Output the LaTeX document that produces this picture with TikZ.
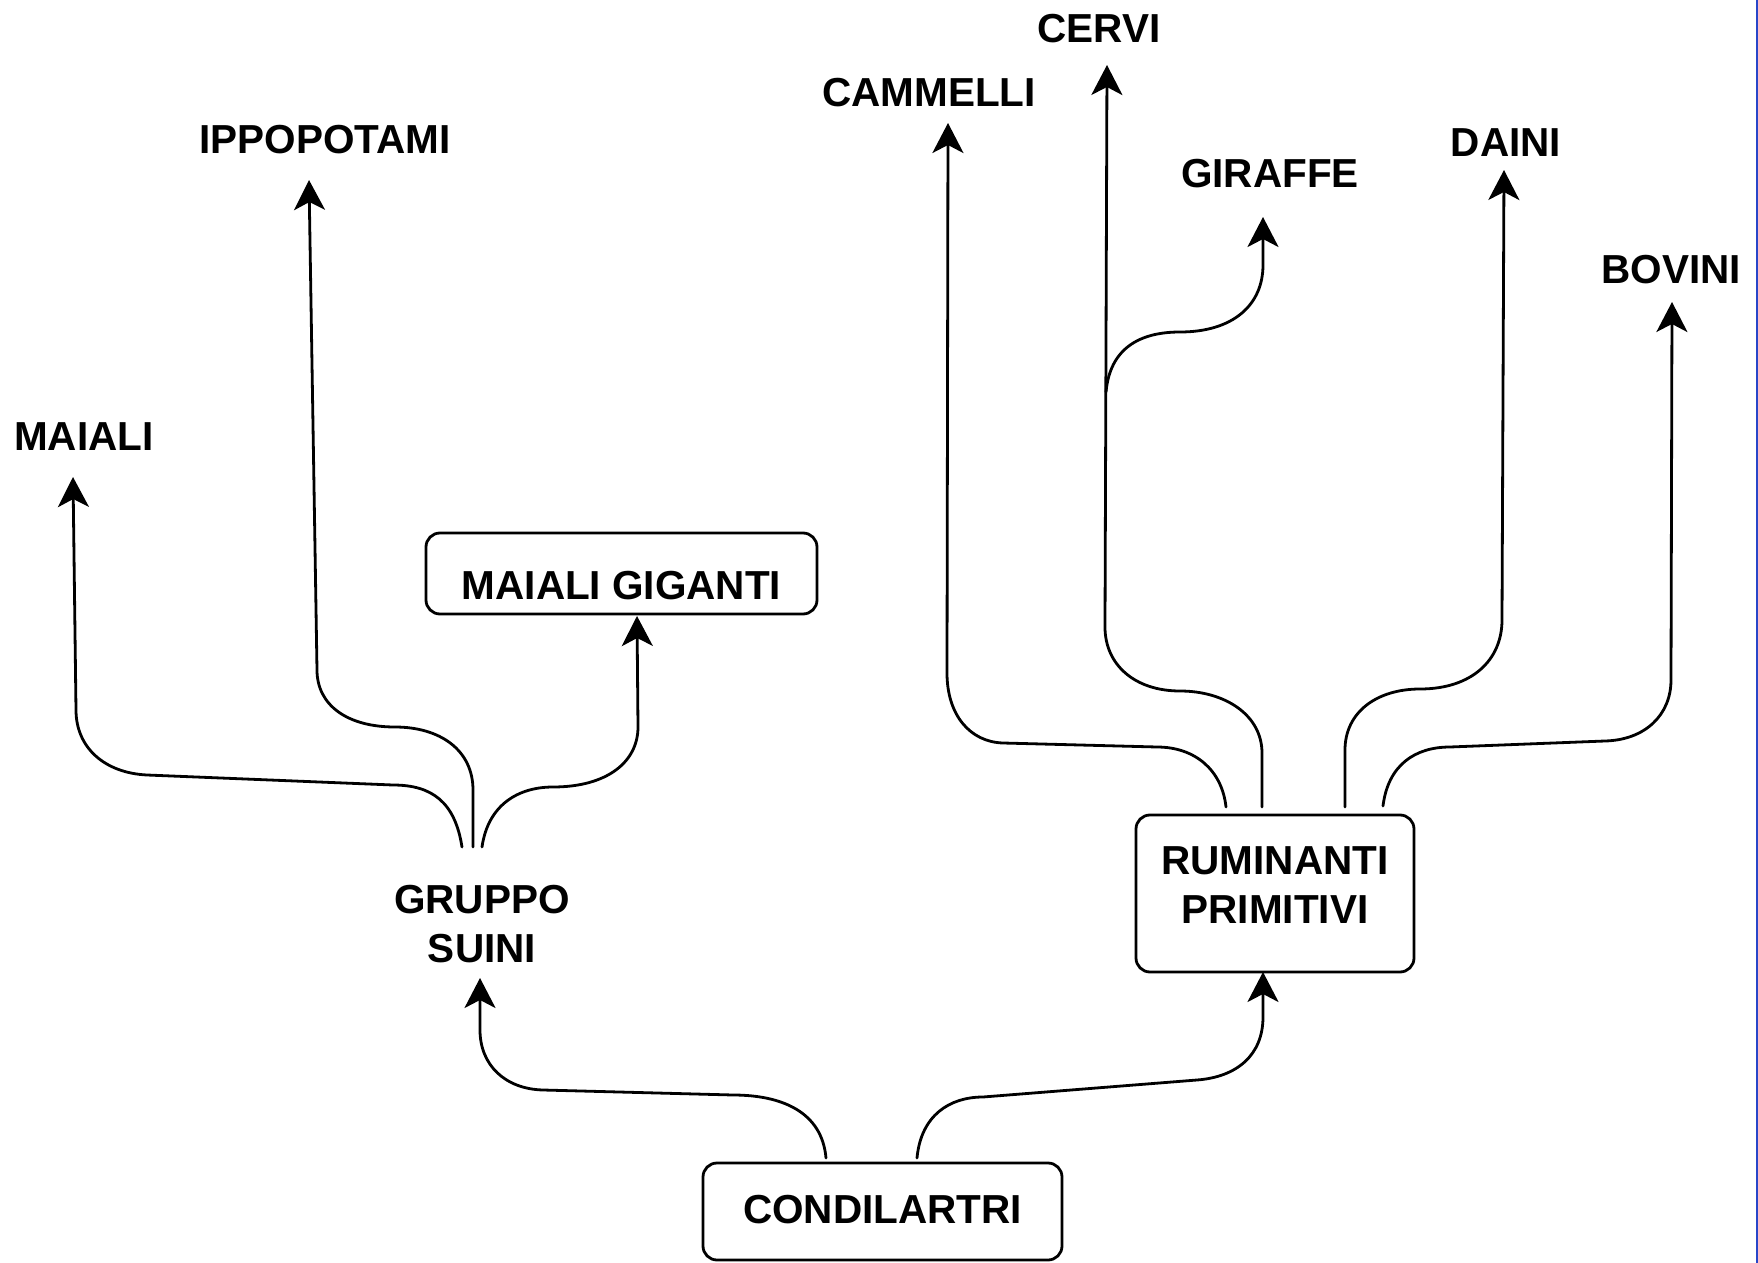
\documentclass[tikz,border=0pt]{standalone}
\usepackage{fontspec}
\setmainfont{Liberation Sans}
\usetikzlibrary{arrows.meta,calc}
\definecolor{edgeblue}{RGB}{40,70,200}
\tikzset{
  lbl/.style={font=\bfseries\fontsize{20.25}{24.25}\selectfont, inner sep=0pt, anchor=base, align=center},
  rbox/.style={draw, line width=1.4pt, rounded corners=7pt, inner sep=0pt, anchor=base,
               font=\bfseries\fontsize{20.25}{24.25}\selectfont, align=center},
  link/.style={line width=1.4pt, line cap=round},
  arr/.style={link, -{Stealth[length=15pt,width=15.5pt,inset=4pt]}},
}
\begin{document}
\begin{tikzpicture}[x=0.5pt,y=-0.5pt]
\useasboundingbox (0,0) rectangle (1758,1263);

% ---------- boxes ----------
\node[rbox, minimum width=179.5pt, text height=30pt, text depth=18.5pt] (condi) at (882.5,1223) {CONDILARTRI};
\node[rbox, minimum width=195.5pt, text height=33pt, text depth=7.5pt] (giganti) at (621.5,599) {MAIALI GIGANTI};
\node[rbox, minimum width=139pt, text height=54pt, text depth=24.5pt] (rumi) at (1275,923) {RUMINANTI\\PRIMITIVI};

% ---------- labels ----------
\node[lbl] (suini) at (482,962) {GRUPPO\\SUINI};
\node[lbl] (maiali) at (84,450) {MAIALI};
\node[lbl] (ippo) at (325,154) {IPPOPOTAMI};
\node[lbl] (cammelli) at (929,107) {CAMMELLI};
\node[lbl] (cervi) at (1099,43) {CERVI};
\node[lbl] (giraffe) at (1270,188) {GIRAFFE};
\node[lbl] (daini) at (1506,156) {DAINI};
\node[lbl] (bovini) at (1671,283) {BOVINI};

% ---------- connector ends ----------
\coordinate (cL) at (826,1158);
\coordinate (cR) at (917,1158);
\coordinate (tSuini) at (480,978);
\coordinate (tRumi) at (1263,972);
\coordinate (sM) at (462,847);
\coordinate (sI) at (473,847);
\coordinate (sG) at (482,847);
\coordinate (tMaiali) at (73,477);
\coordinate (tIppo) at (309,180);
\coordinate (tGiganti) at (637,616);
\coordinate (rA) at (1226,807);
\coordinate (rB) at (1262,807);
\coordinate (rC) at (1345,807);
\coordinate (rD) at (1383,806);
\coordinate (tCammelli) at (948,123);
\coordinate (tCervi) at (1107,65);
\coordinate (jGiraffe) at (1106,392);
\coordinate (tGiraffe) at (1263,217);
\coordinate (tDaini) at (1504,170);
\coordinate (tBovini) at (1672,302);

% ---------- from CONDILARTRI ----------
\draw[arr] (cL) .. controls (822,1112) and (782,1095) .. (733,1095) -- (543,1090)
  .. controls (505,1089) and (480,1065) .. (480,1030) -- (tSuini);
\draw[arr] (cR) .. controls (921,1115) and (950,1097) .. (983,1097) -- (1197,1080)
  .. controls (1237,1077) and (1263,1055) .. (1263,1017) -- (tRumi);

% ---------- from GRUPPO SUINI ----------
\draw[arr] (sM) .. controls (455,802) and (432,785) .. (393,785) -- (147,775)
  .. controls (105,773) and (76,748) .. (76,710) -- (tMaiali);
\draw[arr] (sI) -- (473,790) .. controls (473,750) and (440,727) .. (395,727)
  .. controls (347,727) and (317,705) .. (317,670) -- (tIppo);
\draw[arr] (sG) .. controls (488,805) and (518,787) .. (553,787)
  .. controls (607,787) and (638,762) .. (638,727) -- (tGiganti);

% ---------- from RUMINANTI PRIMITIVI ----------
\draw[arr] (rA) .. controls (1222,770) and (1195,747) .. (1157,747) -- (1003,743)
  .. controls (970,742) and (947,715) .. (947,673) -- (tCammelli);
\draw[arr] (rB) -- (1262,753) .. controls (1262,715) and (1225,691) .. (1180,691)
  .. controls (1135,691) and (1105,665) .. (1105,627) -- (tCervi);
\draw[arr] (jGiraffe) .. controls (1110,348) and (1140,332) .. (1180,332)
  .. controls (1233,332) and (1263,305) .. (1263,265) -- (tGiraffe);
\draw[arr] (rC) -- (1345,750) .. controls (1345,712) and (1377,689) .. (1420,689)
  .. controls (1472,689) and (1502,660) .. (1502,620) -- (tDaini);
\draw[arr] (rD) .. controls (1388,765) and (1415,747) .. (1450,747) -- (1605,741)
  .. controls (1645,740) and (1671,715) .. (1671,680) -- (tBovini);

% right border line
\draw[edgeblue, line width=1pt] (1757,0) -- (1757,1263);
\end{tikzpicture}
\end{document}
